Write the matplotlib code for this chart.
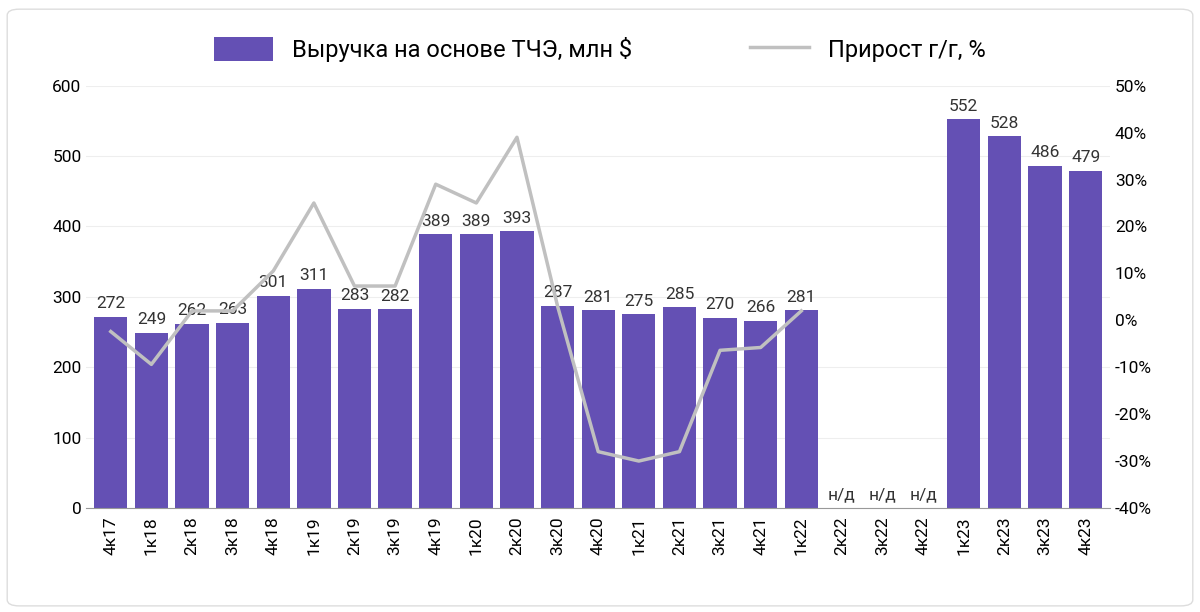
import matplotlib
matplotlib.use("Agg")
import matplotlib.pyplot as plt
from matplotlib.patches import FancyBboxPatch
import numpy as np

plt.rcParams["font.family"] = "Roboto"

categories = ["4к17","1к18","2к18","3к18","4к18","1к19","2к19","3к19","4к19","1к20","2к20","3к20",
              "4к20","1к21","2к21","3к21","4к21","1к22","2к22","3к22","4к22","1к23","2к23","3к23","4к23"]
revenue = [272,249,262,263,301,311,283,282,389,389,393,287,281,275,285,270,266,281,
           None,None,None,552,528,486,479]
growth = [-2.4,-9.4,2,2,10.5,25,7.3,7.3,29,25,39,3,-28,-30,-28,-6.4,-5.8,2]

fig = plt.figure(figsize=(12,6.12), dpi=100)
fig.patches.append(FancyBboxPatch((0.006,0.01),0.988,0.975,boxstyle="round,pad=0,rounding_size=0.01",
                                  transform=fig.transFigure, fc="white", ec="#dddddd", lw=1, zorder=-10))
ax = fig.add_axes([0.072,0.17,0.853,0.69])
ax.patch.set_alpha(0)
x = np.arange(len(categories))
vals = [v if v is not None else 0 for v in revenue]
ax.bar(x, vals, width=0.82, color="#6450b4", label="Выручка на основе ТЧЭ, млн $", zorder=2)
for i,v in enumerate(revenue):
    ax.text(i, (v if v else 0)+8, str(v) if v else "н/д", ha="center", va="bottom", fontsize=12.5, color="#333333")
ax.set_ylim(0,600)
ax.set_yticks(range(0,601,100))
ax.set_xlim(-0.6, len(categories)-0.4)
ax.set_xticks(x)
ax.set_xticklabels(categories, rotation=90, fontsize=12.5)
ax.tick_params(axis="y", labelsize=12.5, length=0)
ax.tick_params(axis="x", length=0, pad=6)
ax.grid(axis="y", color="#eeeeee", zorder=0)
for s in ax.spines.values(): s.set_visible(False)
ax.spines["bottom"].set_visible(True); ax.spines["bottom"].set_color("#999999")

ax2 = ax.twinx()
ax2.plot(x[:len(growth)], growth, color="#c0c0c0", lw=2.5, label="Прирост г/г, %", zorder=3)
ax2.set_ylim(-40,50)
ax2.set_yticks(range(-40,51,10))
ax2.set_yticklabels([f"{t}%" for t in range(-40,51,10)])
ax2.tick_params(axis="y", labelsize=12.5, length=0)
for s in ax2.spines.values(): s.set_visible(False)

h1,l1 = ax.get_legend_handles_labels()
h2,l2 = ax2.get_legend_handles_labels()
fig.legend(h1+h2, l1+l2, loc="upper center", bbox_to_anchor=(0.5,0.975), ncol=2, frameon=False,
           fontsize=17, columnspacing=5, handlelength=2.5, handleheight=1.2)
fig.savefig("out.png")
